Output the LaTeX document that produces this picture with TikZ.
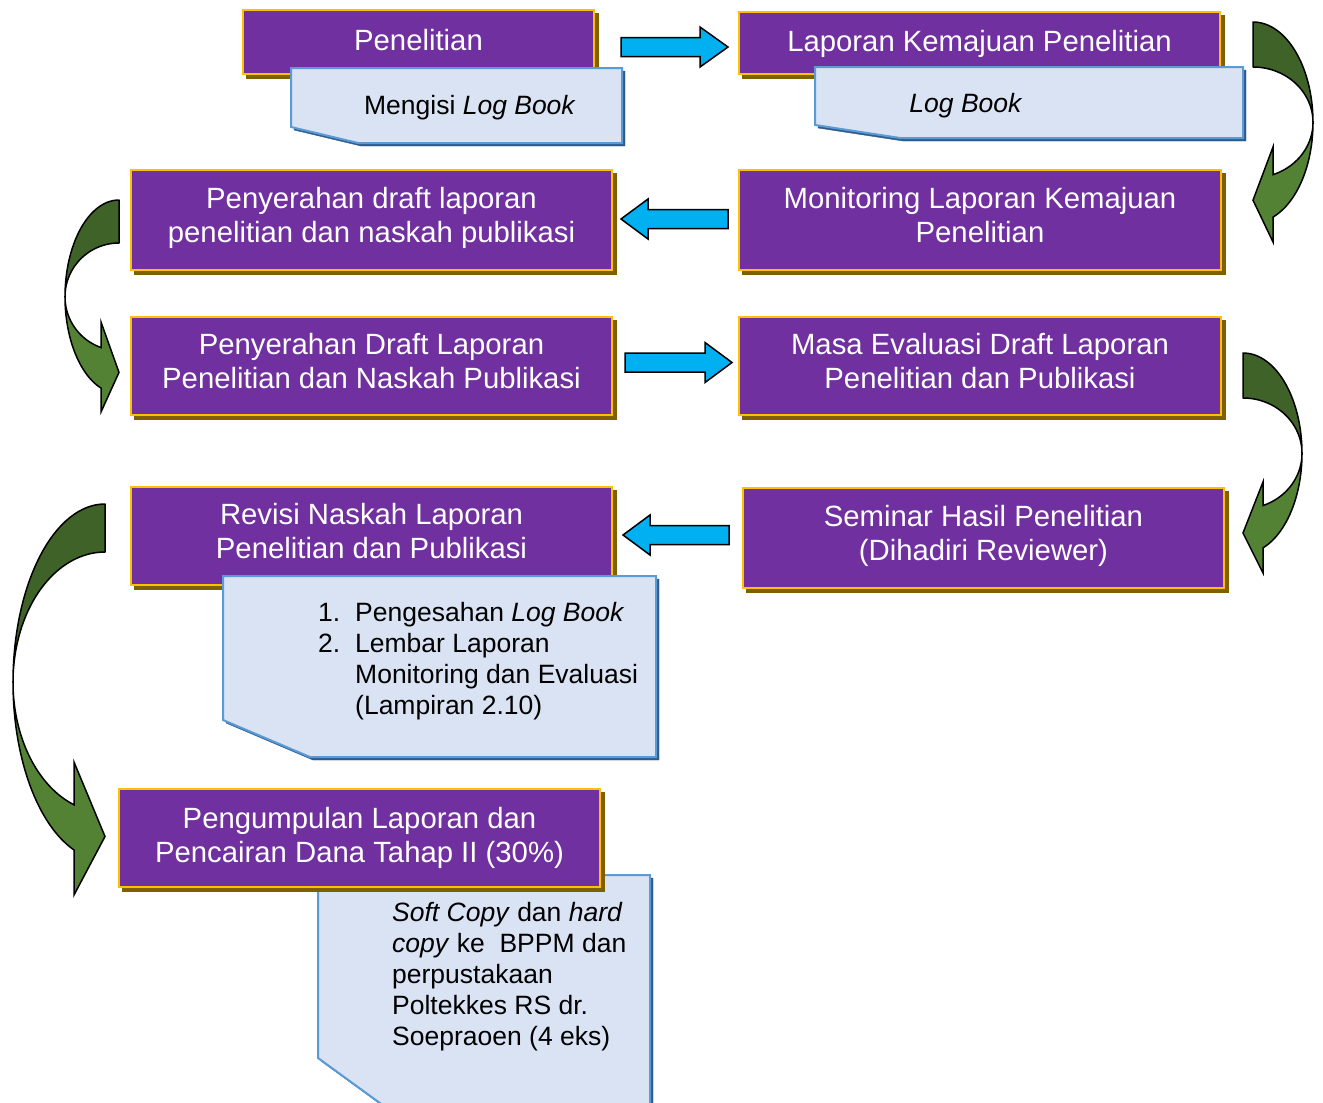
\documentclass[tikz,border=0pt]{standalone}
\usepackage{fontspec}
\setmainfont{Liberation Sans}
\usetikzlibrary{shadows}
\definecolor{purp}{HTML}{7030A0}
\definecolor{gold}{HTML}{FFC000}
\definecolor{bshadow}{HTML}{7F6000}
\definecolor{notefill}{HTML}{DAE3F3}
\definecolor{noteline}{HTML}{5B9BD5}
\definecolor{nshadow}{HTML}{2E5A8C}
\definecolor{cyanar}{HTML}{00B0F0}
\definecolor{gdark}{HTML}{3F6228}
\definecolor{glight}{HTML}{548235}
\tikzset{
  box/.style={draw=gold, fill=purp, line width=2.5pt, inner sep=0pt, text=white,
    align=center, font=\fontsize{29.3}{34}\selectfont,
    general shadow={fill=bshadow, draw=bshadow, shadow xshift=4pt, shadow yshift=-4pt}},
  boxone/.style={box, text height=21pt, text depth=4pt},
  boxtwo/.style={box, text height=56pt, text depth=11.2pt},
  notebox/.style={draw=noteline, fill=notefill, line width=2pt, line join=miter,
    general shadow={fill=nshadow, draw=nshadow, shadow xshift=3pt, shadow yshift=-3pt}},
  notetext/.style={font=\fontsize{26.5}{31}\selectfont, text=black, inner sep=0pt},
  blockarr/.style={fill=cyanar, draw=black, line width=1.5pt, line join=miter},
  garrdark/.style={fill=gdark, draw=black, line width=1.5pt, line join=round},
  garrlight/.style={fill=glight, draw=black, line width=1.5pt, line join=miter},
}
% #1 side, #2 cx, #3 cy, #4 rx, #5 ry outer, #6 ry inner, #7 barb dx, #8 barb top y, #9 barb bottom y
\newcommand\GreenCurve[9]{%
  \pgfmathsetmacro\gte{acos(#7/#4)}%
  \pgfmathsetmacro\gtip{#8+0.56*(#9-#8)}%
  \path[garrdark] plot[domain=-90:0,samples=40] ({#2+(#1)*#4*cos(\x)},{#3+#5*sin(\x)})
     -- plot[domain=0:-90,samples=40] ({#2+(#1)*#4*cos(\x)},{#3+#6*sin(\x)}) -- cycle;
  \path[garrlight] ({#2+(#1)*#4},#3)
     -- plot[domain=0:\gte,samples=40] ({#2+(#1)*#4*cos(\x)},{#3+#5*sin(\x)})
     -- ({#2+(#1)*#7},#9) -- (#2,\gtip) -- ({#2+(#1)*#7},#8)
     -- plot[domain=\gte:0,samples=40] ({#2+(#1)*#4*cos(\x)},{#3+#6*sin(\x)}) -- cycle;
}
% #1 tail x, #2 head base x, #3 tip x, #4 center y
\newcommand\BlockArrow[4]{%
  \path[blockarr] (#1,{#4-9.5}) -- (#2,{#4-9.5}) -- (#2,{#4-20}) -- (#3,#4)
     -- (#2,{#4+20}) -- (#2,{#4+9.5}) -- (#1,{#4+9.5}) -- cycle;
}
\begin{document}
\begin{tikzpicture}[x=1pt,y=-1pt]
\useasboundingbox (0,0) rectangle (1323,1103);
\clip (0,0) rectangle (1323,1103);

% curved green arrows
\GreenCurve{1}{1253}{122.4}{60}{100.4}{55.4}{20}{147}{242}
\GreenCurve{-1}{119}{296.8}{54}{96.8}{53.8}{18}{322}{412}
\GreenCurve{1}{1243}{453.4}{59}{100.4}{55.4}{20}{482}{573}
\GreenCurve{-1}{105}{682.2}{92}{178.2}{130.2}{31}{762}{895}

% blue block arrows
\BlockArrow{621}{700}{728}{47}
\BlockArrow{728}{648}{621}{219}
\BlockArrow{625}{705}{732}{362.5}
\BlockArrow{729}{650}{623}{535}

% row 1
\node[boxone, minimum width=351, minimum height=64] (b1) at (418.5,42) {Penelitian};
\path[notebox] (291,68) -- (622,68) -- (622,143) -- (358,143) -- (291,127) -- cycle;
\node[notetext] (n1) at (470,108) {Mengisi \textit{Log Book}};
\node[boxone, minimum width=481, minimum height=62] (b2) at (979.5,43) {Laporan Kemajuan Penelitian};
\path[notebox] (815,67) -- (1243,67) -- (1243,138) -- (900,138) -- (815,125) -- cycle;
\node[notetext] (n2) at (966,106) {\textit{Log Book}};

% row 2
\node[boxtwo, minimum width=481, minimum height=100] (b3) at (371.5,220) {Penyerahan draft laporan\\penelitian dan naskah publikasi};
\node[boxtwo, minimum width=482, minimum height=100] (b4) at (980,220) {Monitoring Laporan Kemajuan\\Penelitian};

% row 3
\node[boxtwo, minimum width=481, minimum height=98] (b5) at (371.5,366) {Penyerahan Draft Laporan\\Penelitian dan Naskah Publikasi};
\node[boxtwo, minimum width=482, minimum height=98] (b6) at (980,366) {Masa Evaluasi Draft Laporan\\Penelitian dan Publikasi};

% row 4
\node[boxtwo, minimum width=481, minimum height=98] (b7) at (371.5,536) {Revisi Naskah Laporan\\Penelitian dan Publikasi};
\path[notebox] (223,576) -- (656,576) -- (656,757) -- (310,757) -- (223,720) -- cycle;
\node[notetext, align=left, anchor=west] (n3) at (318,661) {%
\makebox[37pt][l]{1.}Pengesahan \textit{Log Book}\\
\makebox[37pt][l]{2.}Lembar Laporan\\
\hspace*{37pt}Monitoring dan Evaluasi\\
\hspace*{37pt}(Lampiran 2.10)};
\node[boxtwo, minimum width=481, minimum height=100] (b8) at (983.5,538) {Seminar Hasil Penelitian\\(Dihadiri Reviewer)};

% row 5
\path[notebox] (318,875) -- (650,875) -- (650,1130) -- (417,1130) -- (318,1058) -- cycle;
\node[boxtwo, text depth=7.2pt, minimum width=481, minimum height=98] (b9) at (359.5,838) {Pengumpulan Laporan dan\\Pencairan Dana Tahap II (30\%)};
\node[notetext, align=left, anchor=west] (n4) at (392,977) {%
\textit{Soft Copy} dan \textit{hard}\\
\textit{copy} ke\ \ BPPM dan\\
perpustakaan\\
Poltekkes RS dr.\\
Soepraoen (4 eks)};
\end{tikzpicture}
\end{document}
